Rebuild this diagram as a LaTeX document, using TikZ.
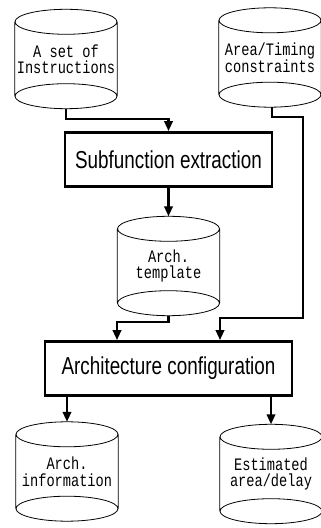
\documentclass[tikz,border=0pt]{standalone}
\usepackage{fontspec}
\newfontfamily\boxfont[FakeStretch=0.77]{Liberation Sans}
\newfontfamily\storefont[FakeStretch=0.78]{Liberation Mono}
\usetikzlibrary{arrows.meta}
\tikzset{
  stepbox/.style={draw, line width=2.8pt, minimum width=#1, minimum height=54pt, inner sep=0pt, font=\boxfont\fontsize{24.5}{28}\selectfont},
  store/.style={minimum width=102pt, minimum height=99pt, inner sep=0pt, align=center, font=\storefont\fontsize{17.5}{16.5}\selectfont},
  flow/.style={line width=2.2pt, -{Triangle[length=10pt,width=8.5pt]}}
}

\begin{document}
\begin{tikzpicture}[x=1pt,y=1pt]
\useasboundingbox (0,0) rectangle (321,528);
% data stores
\node[store] (instr) at (66,469) {A set of\\Instructions};
\node[store] (area) at (270,470.5) {Area/Timing\\constraints};
\node[store] (tmpl) at (168.5,262) {Arch.\\template};
\node[store] (info) at (67,56.5) {Arch.\\information};
\node[store] (est) at (271,54) {Estimated\\area/delay};
\foreach \n in {instr,area,tmpl,info,est}{
  \draw[line width=0.8pt] ([yshift=-12.5pt]\n.north) ellipse (51pt and 12.5pt)
    ([yshift=12.5pt]\n.south) ellipse (51pt and 12.5pt)
    ([yshift=-12.5pt]\n.north west) -- ([yshift=12.5pt]\n.south west)
    ([yshift=-12.5pt]\n.north east) -- ([yshift=12.5pt]\n.south east);
}
% steps
\node[stepbox=207pt] (subfn) at (168.5,368.5) {Subfunction extraction};
\node[stepbox=247pt] (config) at (168.5,159.5) {Architecture configuration};
% flows
\coordinate (bend) at (303,210);
\draw[flow] (instr.south) -- ++(0,-10) -| (subfn.north);
\draw[flow] ([xshift=2pt]area.south) -- ++(0,-10) -| (bend) -| ([xshift=51.5pt]config.north);
\draw[flow] (subfn.south) -- (tmpl.north);
\draw[flow] (tmpl.south) -- ++(0,-6) -| ([xshift=-51.5pt]config.north);
\draw[flow] (config.south -| info.north) -- (info.north);
\draw[flow] (config.south -| est.north) -- (est.north);
\end{tikzpicture}
\end{document}
